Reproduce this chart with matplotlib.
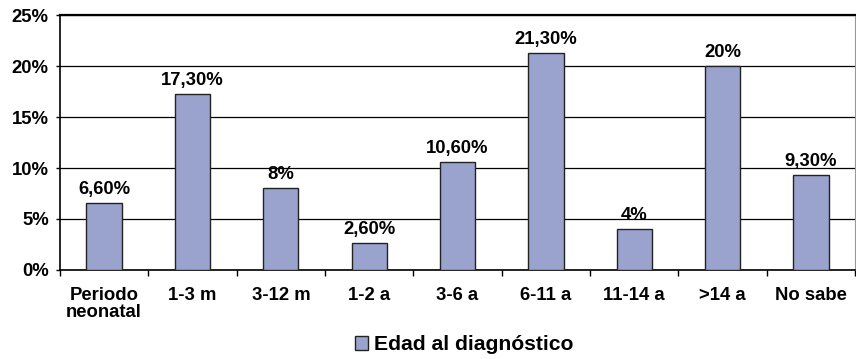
import numpy as np
import matplotlib
matplotlib.use("Agg")
import matplotlib.pyplot as plt
from matplotlib.ticker import FixedLocator, NullFormatter

plt.rcParams.update({"font.family": ["Liberation Sans", "DejaVu Sans"],
                     "font.weight": "bold", "font.size": 13.3})

CATEGORIES = ["Periodo\nneonatal", "1-3 m", "3-12 m", "1-2 a", "3-6 a",
              "6-11 a", "11-14 a", ">14 a", "No sabe"]
VALUES = [6.6, 17.3, 8, 2.6, 10.6, 21.3, 4, 20, 9.3]
LABELS = ["6,60%", "17,30%", "8%", "2,60%", "10,60%", "21,30%", "4%", "20%", "9,30%"]
YTICKS = [0, 5, 10, 15, 20, 25]
SERIES = "Edad al diagnóstico"

BAR = "#9aa3ce"

fig = plt.figure(figsize=(8.56, 3.59), dpi=100)
ax = fig.add_axes([0.070, 0.248, 0.929, 0.710])

x = np.arange(len(CATEGORIES))
bars = ax.bar(x, VALUES, width=0.40, color=BAR, edgecolor="#222222",
              linewidth=1.0, zorder=3, label=SERIES)
for xi, v, lab in zip(x, VALUES, LABELS):
    ax.annotate(lab, (xi, v), xytext=(0, 6.5), textcoords="offset points",
                ha="center", va="baseline", fontweight="bold", zorder=4)

ax.set_xlim(-0.5, len(CATEGORIES) - 0.5)
ax.set_ylim(0, 25)
ax.set_yticks(YTICKS)
ax.set_yticklabels([f"{t}%" for t in YTICKS])
ax.yaxis.grid(True, color="black", lw=0.9, zorder=0)

# category boundaries carry the tick marks, labels sit at the centres
ax.xaxis.set_major_locator(FixedLocator(np.arange(len(CATEGORIES) + 1) - 0.5))
ax.xaxis.set_major_formatter(NullFormatter())
ax.xaxis.set_minor_locator(FixedLocator(x))
ax.set_xticklabels(CATEGORIES, minor=True, linespacing=1.05)
ax.tick_params(axis="x", which="major", length=4, width=1, direction="out")
ax.tick_params(axis="x", which="minor", length=0, pad=12)
ax.tick_params(axis="y", length=3, width=1, direction="out", pad=5)

for s in ["left", "bottom"]:
    ax.spines[s].set_color("black")
    ax.spines[s].set_linewidth(1.2)
ax.spines["top"].set_linewidth(1.6)
ax.spines["right"].set_color("#999999")
ax.spines["right"].set_linewidth(0.8)

fig.legend(handles=[bars], labels=[SERIES], loc="center",
           bbox_to_anchor=(0.542, 0.04), frameon=False, fontsize=15.2,
           handlelength=0.65, handleheight=0.65, handletextpad=0.25)

fig.savefig("out.png", dpi=100)
